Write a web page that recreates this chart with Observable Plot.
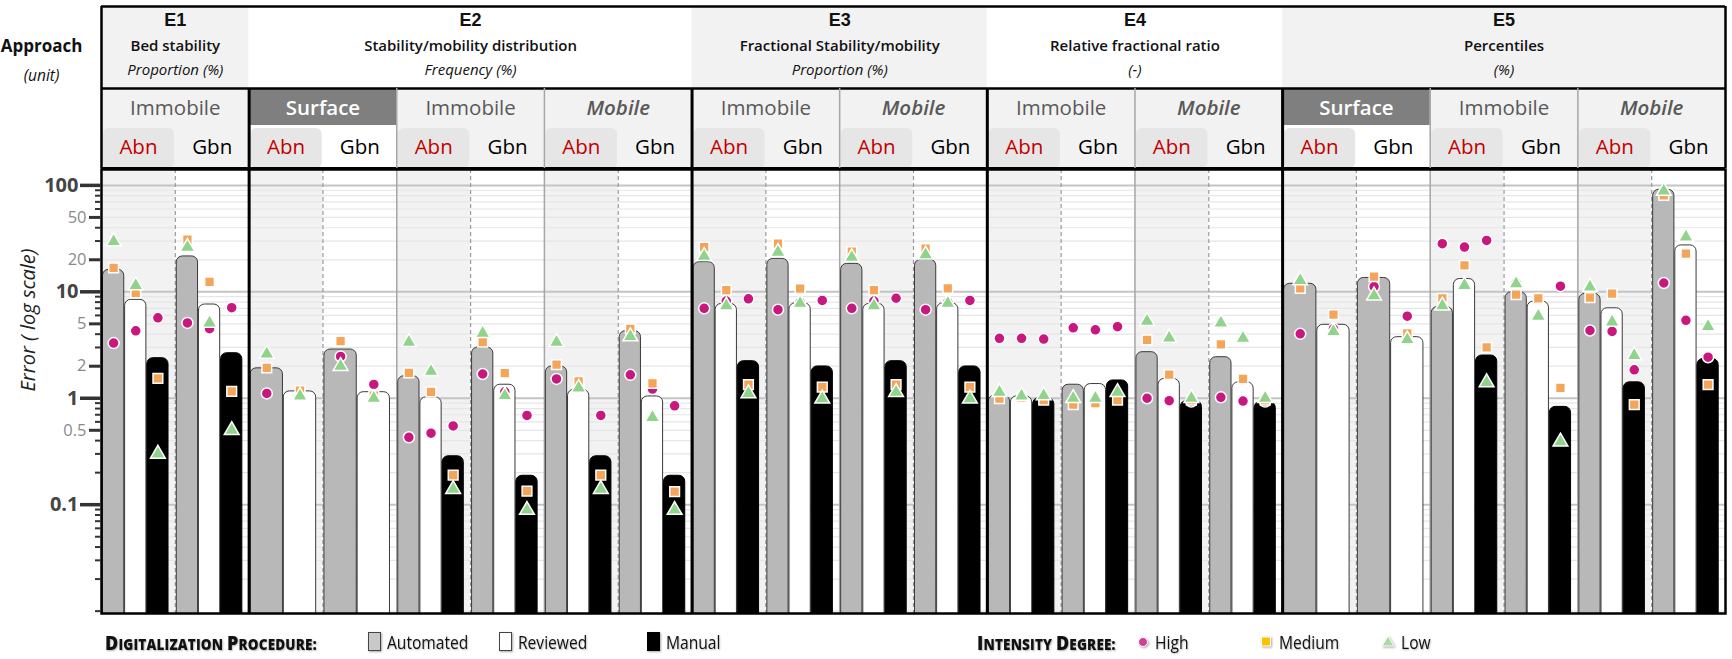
<!DOCTYPE html>
<html><head><meta charset="utf-8">
<script src="https://cdn.jsdelivr.net/npm/d3@7"></script>
<script src="https://cdn.jsdelivr.net/npm/@observablehq/plot@0.6"></script>
<style>
body{margin:0;background:#fff;}
#wrap{position:relative;width:1732px;height:659px;overflow:hidden;font-family:"Open Sans",sans-serif;}
#hdr svg,#main svg{display:block}
.lg{position:absolute;white-space:nowrap;color:#111;text-shadow:1px 1px 2px rgba(0,0,0,0.3);transform-origin:0 50%;}
.lt{font-family:"Open Sans",sans-serif;font-size:19px;top:629px;transform:scaleX(0.82);}
.lh{font-family:"Open Sans",sans-serif;font-weight:800;font-size:15px;top:629px;transform:scaleX(0.9);letter-spacing:0.2px;}
.lh b{font-size:20px;font-weight:800;}
.sw{position:absolute;top:632px;width:13px;height:19px;box-sizing:border-box;box-shadow:1px 1px 2px rgba(0,0,0,0.35);}
.mk{position:absolute;top:633px;filter:drop-shadow(1px 1px 1px rgba(0,0,0,0.35));}
</style></head><body>
<div id="wrap">
<div id="hdr"></div>
<div id="main"></div>
<div class="lg lh" style="left:105px"><b>D</b>IGITALIZATION <b>P</b>ROCEDURE:</div>
<div class="sw" style="left:368px;background:#c9c9c9;border:1.5px solid #444"></div>
<div class="lg lt" style="left:387px">Automated</div>
<div class="sw" style="left:499px;background:#fff;border:1.5px solid #444"></div>
<div class="lg lt" style="left:518px">Reviewed</div>
<div class="sw" style="left:647px;background:#000;border:1.5px solid #000"></div>
<div class="lg lt" style="left:666px">Manual</div>
<div class="lg lh" style="left:977px"><b>I</b>NTENSITY <b>D</b>EGREE:</div>
<svg class="mk" style="left:1137px" width="14" height="18"><circle cx="6" cy="9" r="4.5" fill="#d0409a" stroke="#fff" stroke-width="1"/></svg>
<div class="lg lt" style="left:1155px">High</div>
<svg class="mk" style="left:1260px" width="14" height="18"><rect x="1.5" y="4" width="9" height="9" fill="#ffc000" stroke="#fff" stroke-width="1"/></svg>
<div class="lg lt" style="left:1279px">Medium</div>
<svg class="mk" style="left:1381px" width="16" height="18"><path d="M7,3 L13,13 L1,13 Z" fill="#a9dca0" stroke="#fff" stroke-width="1"/></svg>
<div class="lg lt" style="left:1401px">Low</div>
</div>
<script>
// ---------------- data ----------------
const experiments = ["E1","E2","E3","E4","E5"];
const expNames = ["Bed stability","Stability/mobility distribution","Fractional Stability/mobility","Relative fractional ratio","Percentiles"];
const expUnits = ["Proportion (%)","Frequency (%)","Proportion (%)","(-)","(%)"];
const groupExp = ["E1","E2","E2","E2","E3","E3","E4","E4","E5","E5","E5"];
const groupNames = ["Immobile","Surface","Immobile","Mobile","Immobile","Mobile","Immobile","Mobile","Surface","Immobile","Mobile"];
const methods = ["Abn","Gbn"];
const procedures = ["Automated","Reviewed","Manual"];
const intensities = ["High","Medium","Low"];

// bar values per sub-column (22 = 11 groups x Abn/Gbn); null = no bar
const automated = [16.1,21.5, 1.91,2.87, 1.61,3.0, 1.99,4.27, 19.0,20.4, 18.3,20.0, 1.06,1.34, 2.71,2.43, 11.9,13.5, 7.2,9.9, 9.6,91];
const reviewed  = [8.4,7.6, 1.16,1.14, 1.02,1.34, 1.2,1.04, 7.7,7.8, 7.7,7.8, 1.04,1.36, 1.52,1.41, 4.9,3.75, 13.2,8.1, 7.0,27.3];
const manual    = [2.38,2.65, null,null, 0.285,0.187, 0.285,0.187, 2.23,1.99, 2.23,1.99, 1.0,1.47, 0.94,0.92, null,null, 2.52,0.83, 1.41,2.34];

// intensity points: per sub-column [Automated, Reviewed, Manual]
const high = [[3.3,4.3,5.7],[5.1,4.5,7.1],[1.11,1.1],[2.47,1.35],[0.43,0.47,0.55],[1.69,1.15,0.69],[1.52,1.32,0.69],[1.66,1.22,0.85],
  [7.0,8.2,8.6],[6.8,8.0,8.3],[7.0,8.2,8.7],[6.8,8.0,8.3],[3.66,3.66,3.6],[4.59,4.4,4.7],[1.0,0.95,0.93],[1.02,0.94,0.93],
  [4.03,4.49],[11.2,5.9],[28.3,26.3,30.4],[12.1,8.6,11.3],[4.33,4.24,1.85],[12.1,5.4,2.43]];
const medium = [[16.8,9.8,1.54],[31,12.4,1.16],[1.93,1.18],[3.44,1.06],[1.73,1.15,0.19],[3.36,1.72,0.134],[2.07,1.44,0.19],[4.49,1.38,0.133],
  [26.3,10.4,1.34],[28.3,10.7,1.27],[23.9,10.4,1.34],[25.4,10.8,1.27],[0.99,1.02,0.96],[0.87,0.9,0.96],[3.54,1.67,0.96],[3.2,1.52,0.96],
  [10.8,6.1],[13.9,4.08],[8.7,17.7,3.0],[9.4,8.7,1.25],[8.8,9.6,0.87],[80.5,22.8,1.34]];
const low = [[29.7,11.5,0.30],[26.3,5.1,0.50],[2.61,1.05],[2.0,1.0],[3.36,1.79,0.14],[4.08,1.06,0.089],[3.36,1.25,0.14],[3.8,0.66,0.089],
  [21.6,7.4,1.11],[23.6,7.8,0.99],[21.1,7.4,1.14],[22.3,7.8,0.99],[1.14,1.05,1.06],[1.0,1.0,1.14],[5.3,3.69,1.0],[5.1,3.66,1.0],
  [12.8,4.24],[9.2,3.56],[7.4,11.5,1.41],[11.9,5.9,0.39],[11.1,5.2,2.52],[88.5,32.7,4.72]];

const majorTicks = [0.1,1,10,100];
const midTicks = [0.5,2,5,20,50];

// ---------------- derived tables ----------------
const NSUB = groupNames.length * methods.length;
const subcols = d3.range(NSUB).map(k => ({k, x1:k, x2:k+1, group:Math.floor(k/2), method:methods[k%2]}));
const bars = [], points = [];
const series = [automated, reviewed, manual];
const pts = {High: high, Medium: medium, Low: low};
subcols.forEach(s => {
  const present = procedures.map((p,j)=>series[j][s.k]).filter(v=>v!=null);
  const n = present.length, slot = 0.9/n;
  procedures.forEach((p,j) => {
    const v = series[j][s.k];
    if (v == null) return;
    const x1 = s.k + 0.02 + j*slot, x2 = x1 + slot - 0.012;
    bars.push({procedure:p, x1, x2, value:v});
    intensities.forEach(I => {
      const pv = pts[I][s.k][j];
      if (pv != null) points.push({intensity:I, x:(x1+x2)/2, value:pv});
    });
  });
});
const minorTicks = [];
for (let e=-3; e<=2; e++) for (let m=1; m<=9; m++) {
  const v = +(m*Math.pow(10,e)).toPrecision(3);
  if (v>=0.0095 && v<=141 && !majorTicks.includes(v) && !midTicks.includes(v)) minorTicks.push(v);
}
const gridMinor = minorTicks.concat(midTicks);
// boundaries
const groupStart = d3.range(groupNames.length).map(g=>g*2);
const expBounds = [], groupBounds = [];
for (let g=1; g<groupNames.length; g++) {
  (groupExp[g] !== groupExp[g-1] ? expBounds : groupBounds).push(g*2);
}
const abnGbnBounds = groupStart.map(x=>x+1);
const expSpans = experiments.map((e,i) => {
  const gs = groupExp.map((ge,g)=>ge===e?g:-1).filter(g=>g>=0);
  return {id:e, name:expNames[i], unit:expUnits[i], x1:gs[0]*2, x2:(gs[gs.length-1]+1)*2, shade:i%2===0};
});
const groupsT = groupNames.map((n,g)=>({name:n, x1:g*2, x2:g*2+2, surface:n==="Surface"}));

// ---------------- header ----------------
const R = {exp:82, grp:119, bot:162};
const gx = d=>(d.x1+d.x2)/2, gy = (R.exp+R.grp)/2+1;
const header = Plot.plot({
  width:1732, height:168, marginLeft:101, marginRight:7, marginTop:6, marginBottom:0,
  x:{domain:[0,NSUB], axis:null}, y:{domain:[0,R.bot], reverse:true, axis:null},
  color:{type:"identity"},
  style:{fontFamily:"'Open Sans',sans-serif", background:"transparent", overflow:"visible"},
  marks:[
    Plot.rect(expSpans, {x1:"x1", x2:"x2", y1:0, y2:R.exp, fill:d=>d.shade?"#f2f2f2":"#ffffff"}),
    Plot.rect(groupsT, {x1:"x1", x2:"x2", y1:R.exp, y2:R.bot, fill:"#f2f2f2"}),
    Plot.rect(groupsT.filter(d=>d.surface), {x1:"x1", x2:"x2", y1:R.grp, y2:R.bot, fill:"#ffffff"}),
    Plot.rect(groupsT.filter(d=>d.surface), {x1:"x1", x2:"x2", y1:R.exp+1, y2:R.grp, fill:"#7f7f7f"}),
    Plot.rect(subcols.filter(d=>d.method==="Abn"), {x1:d=>d.x1+0.02, x2:d=>d.x2-0.01, y1:R.grp+3, y2:R.bot, fill:"#e6e6e6", rx:6}),
    Plot.text(expSpans, {x:gx, y:14, text:"id", fontSize:18, fontWeight:"bold", fontFamily:"'Liberation Sans',sans-serif", fill:"#111"}),
    Plot.text(expSpans, {x:gx, y:40, text:"name", fontSize:15, fontWeight:600, fill:"#111"}),
    Plot.text(expSpans, {x:gx, y:64, text:"unit", fontSize:15, fontStyle:"italic", fill:"#111"}),
    Plot.text(groupsT.filter(d=>d.name==="Surface"), {x:gx, y:gy, text:"name", fontSize:20.5, fontWeight:600, fill:"#ffffff"}),
    Plot.text(groupsT.filter(d=>d.name==="Immobile"), {x:gx, y:gy, text:"name", fontSize:20.5, fontWeight:500, fill:"#595959"}),
    Plot.text(groupsT.filter(d=>d.name==="Mobile"), {x:gx, y:gy, text:"name", fontSize:20.5, fontWeight:600, fontStyle:"italic", fill:"#595959"}),
    Plot.text(subcols, {x:gx, y:(R.grp+R.bot)/2, text:"method", fontSize:20.5, fontWeight:500,
      fill:d=>d.method==="Abn"?"#c00000":"#000000"}),
    Plot.text(["Approach"], {frameAnchor:"top-left", textAnchor:"middle", dx:-60, dy:33, text:d=>d, fontSize:17, fontWeight:"bold", fill:"#111"}),
    Plot.text(["(unit)"], {frameAnchor:"top-left", textAnchor:"middle", dx:-60, dy:63, text:d=>d, fontSize:15.5, fontStyle:"italic", fill:"#111"}),
    Plot.ruleY([0], {stroke:"#000", strokeWidth:2.5}),
    Plot.ruleY([R.exp], {stroke:"#000", strokeWidth:2.5}),
    Plot.ruleY([R.bot], {stroke:"#000", strokeWidth:3}),
    Plot.ruleX(groupBounds, {y1:R.exp, y2:R.bot, stroke:"#a6a6a6", strokeWidth:1.5}),
    Plot.ruleX(expBounds, {y1:R.exp, y2:R.bot, stroke:"#000", strokeWidth:3}),
    Plot.ruleX([0, NSUB], {y1:0, y2:R.bot, stroke:"#000", strokeWidth:2.5})
  ]
});
document.getElementById("hdr").appendChild(header);

// ---------------- main chart ----------------
const barStyle = {Automated:{fill:"#b8b8b8", stroke:"#3a3a3a"}, Reviewed:{fill:"#ffffff", stroke:"#3a3a3a"}, Manual:{fill:"#000000", stroke:"#000000"}};
const chart = Plot.plot({
  width:1732, height:447, marginLeft:101, marginRight:7, marginTop:1, marginBottom:2,
  x:{domain:[0,NSUB], axis:null},
  y:{type:"log", domain:[0.0095,141], axis:null},
  color:{domain:intensities, range:["#c8177f","#f5a55a","#8fd48a"]},
  symbol:{domain:intensities, range:["circle","square","triangle"]},
  style:{fontFamily:"'Open Sans',sans-serif", background:"transparent", overflow:"visible"},
  marks:[
    Plot.rect(subcols.filter(d=>d.method==="Abn"), {x1:"x1", x2:"x2", fill:"#f2f2f2"}),
    Plot.ruleY(gridMinor, {stroke:"#e6e6e6", strokeWidth:1.2}),
    Plot.ruleY(majorTicks, {stroke:"#c4c4c4", strokeWidth:2}),
    Plot.ruleX(abnGbnBounds, {stroke:"#9a9a9a", strokeWidth:1.2, strokeDasharray:"4,3"}),
    Plot.ruleX(groupBounds, {stroke:"#a6a6a6", strokeWidth:1.5}),
    ...procedures.map(p => Plot.rect(bars.filter(b=>b.procedure===p),
      {x1:"x1", x2:"x2", y1:0.001, y2:"value", fill:barStyle[p].fill, stroke:barStyle[p].stroke, strokeWidth:1, rx:6, clip:true})),
    Plot.dot(points, {x:"x", y:"value", symbol:"intensity", fill:"intensity", stroke:"#ffffff", strokeWidth:1.5, r:5.5}),
    Plot.ruleX(expBounds, {stroke:"#000", strokeWidth:3}),
    Plot.frame({stroke:"#000", strokeWidth:2.5}),
    Plot.axisY(minorTicks, {tickSize:6, strokeWidth:2, stroke:"#333", tickFormat:()=>"", label:null}),
    Plot.axisY(midTicks, {tickSize:12, strokeWidth:3, stroke:"#333", tickFormat:()=>"", label:null}),
    Plot.axisY(majorTicks, {tickSize:21, strokeWidth:3.5, stroke:"#333", tickFormat:()=>"", label:null}),
    Plot.text(midTicks, {y:d=>d, frameAnchor:"left", textAnchor:"end", dx:-15, text:d=>String(d), fontSize:16.5, fill:"#8a8a8a"}),
    Plot.text(majorTicks, {y:d=>d, frameAnchor:"left", textAnchor:"end", dx:-23, text:d=>String(d), fontSize:20, fontWeight:"bold", fill:"#444"}),
    Plot.text(["Error ( log scale)"], {frameAnchor:"left", dx:-73, rotate:-90, text:d=>d, fontSize:20, fontStyle:"italic", fill:"#222"})
  ]
});
document.getElementById("main").appendChild(chart);
</script>
</body></html>
